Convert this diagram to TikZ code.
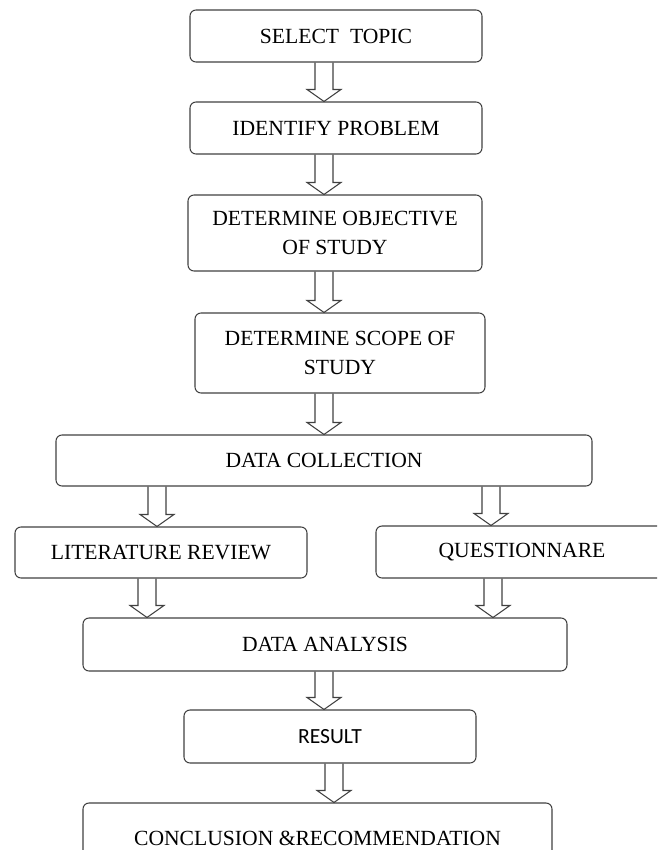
\documentclass[tikz,border=0pt]{standalone}
\usepackage{fontspec}
\setmainfont{Liberation Serif}
\newfontfamily\calibri{Carlito}
\usetikzlibrary{calc}
\tikzset{
  stage/.style 2 args={draw=black!75, line width=0.6pt, rounded corners=0.12cm,
    minimum width=#1*0.02cm, minimum height=#2*0.02cm, inner sep=0pt,
    align=center, font=\fontsize{12.3}{16.2}\selectfont},
  hollow/.style={draw=black!75, line width=0.6pt, line join=miter}
}
\newcommand{\hollowarrow}[3]{%
  \draw[hollow] (#1-9,0 |- #2.south) -- ($(#1-9,0 |- #3.north)+(0,-12)$)
    -- ++(-8,0) -- (#1,0 |- #3.north) -- ($(#1+17,0 |- #3.north)+(0,-12)$)
    -- ++(-8,0) -- (#1+9,0 |- #2.south);}

\begin{document}
\begin{tikzpicture}[x=0.02cm, y=-0.02cm]
    \useasboundingbox (0,0) rectangle (657,850);
    \clip (0,0) rectangle (657,850);
    \node[stage={292}{52}] (topic) at (336,36) {SELECT\ \ TOPIC};
    \node[stage={292}{52}] (problem) at (336,128) {IDENTIFY PROBLEM};
    \node[stage={294}{76}] (objective) at (335,233) {DETERMINE OBJECTIVE\\OF STUDY};
    \node[stage={290}{80}] (scope) at (340,353) {DETERMINE SCOPE OF\\STUDY};
    \node[stage={536}{51}] (collect) at (324,460.5) {DATA COLLECTION};
    \node[stage={292}{51}] (review) at (161,552.5) {LITERATURE REVIEW};
    \node[stage={292}{52}] (quest) at (522,552) {QUESTIONNARE};
    \node[stage={484}{53}] (analysis) at (325,644.5) {DATA ANALYSIS};
    \node[stage={292}{53}, font=\calibri\fontsize{12.3}{16}\selectfont] (result) at (330,736.5) {RESULT};
    \node[stage={469}{70}] (conclude) at (317.5,838) {CONCLUSION \&RECOMMENDATION};
    \hollowarrow{324}{topic}{problem}
    \hollowarrow{324}{problem}{objective}
    \hollowarrow{324}{objective}{scope}
    \hollowarrow{324}{scope}{collect}
    \hollowarrow{157}{collect}{review}
    \hollowarrow{491}{collect}{quest}
    \hollowarrow{147}{review}{analysis}
    \hollowarrow{493}{quest}{analysis}
    \hollowarrow{324}{analysis}{result}
    \hollowarrow{334}{result}{conclude}
\end{tikzpicture}
\end{document}
